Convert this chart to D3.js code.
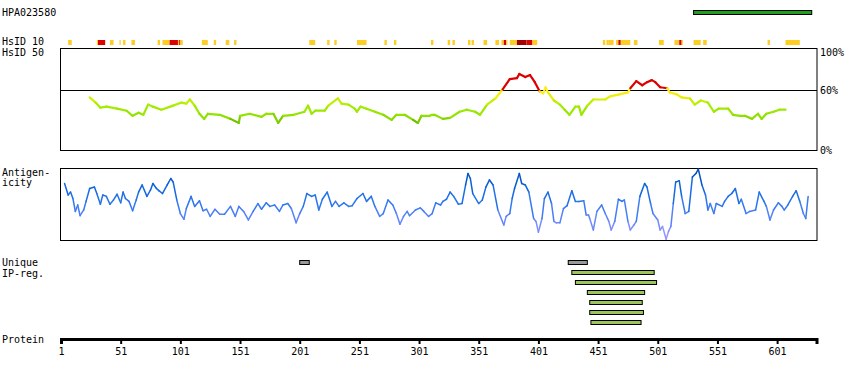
<!DOCTYPE html>
<html><head><meta charset="utf-8">
<script src="https://cdn.jsdelivr.net/npm/d3@7"></script>
<style>
body{margin:0;background:#fff}
svg text{font-family:"DejaVu Sans Mono",monospace;font-size:10px;fill:#000}
</style>
</head><body><svg id="c" width="850" height="380"></svg>
<script>
// ---------------- data ----------------
const proteinLength = 634;
const antigenName = "HPA023580";
const antigenRegion = [531, 630];
// [start, end, level]  level 1 = yellow, 2 = red, 3 = dark red
const hsid10 = [[7,10,1],[31,32,1],[32,38,2],[42,45,1],[50,51,1],[53,55,1],[60,63,1],[82,84,1],[86,92,1],[92,99,2],[99,100,1],[100,101,2],[101,103,1],[119,124,1],[129,131,1],[139,142,1],[146,148,1],[209,214,1],[224,226,1],[230,232,1],[249,257,1],[272,274,1],[280,282,1],[311,313,1],[325,327,1],[329,331,1],[342,344,1],[345,347,1],[355,358,1],[365,368,1],[370,372,1],[372,374,2],[374,375,1],[377,383,1],[383,391,3],[391,396,2],[396,400,1],[455,457,1],[458,460,1],[460,464,1],[466,468,1],[468,470,2],[470,478,1],[481,484,1],[502,506,1],[515,519,1],[519,521,2],[521,522,1],[531,537,1],[539,542,1],[593,595,1],[608,620,1]];
const hsid50Pos = [25,30,34,39,48,56,61,66,70,74,78,85,95,102,106,109,113,117,121,124,134,143,150,151,159,169,173,179,183,187,196,205,208,211,214,222,225,233,236,242,247,249,252,257,264,271,278,282,289,296,300,303,310,312,314,321,327,335,341,348,352,358,365,371,377,383,385,390,394,398,402,405,407,409,414,419,423,427,432,435,437,442,447,457,461,469,476,478,483,488,492,496,499,503,509,511,517,521,528,532,537,543,548,552,560,564,570,574,580,585,588,592,598,603,608];
const hsid50Val = [52,47,42,43,41,39,34,37,35,45,43,40,44,47,46,50,44,36,31,36,35,31,27,34,36,33,36,36,27,34,35,38,44,36,39,39,44,51,46,45,41,38,43,41,38,35,30,35,35,30,27,34,34,35,35,31,32,38,40,38,35,45,51,60,70,71,75,72,74,67,58,56,62,57,49,45,40,35,43,43,35,44,50,50,53,55,57,61,68,64,67,69,67,62,61,57,55,52,51,45,49,47,38,41,41,35,34,34,31,36,31,36,38,40,40];
const antigenPos = [4,7,9,11,13,15,17,20,22,25,29,31,34,36,39,42,45,48,51,53,55,58,61,64,66,69,73,76,78,81,83,86,90,93,95,98,101,104,106,110,113,117,120,123,126,130,134,138,143,147,150,154,158,162,166,169,173,176,180,184,187,191,194,198,201,204,207,211,214,217,220,224,228,231,234,238,242,245,249,254,257,261,264,268,271,275,279,282,285,288,291,293,298,302,305,309,312,315,319,321,324,327,330,334,337,340,342,344,346,351,354,357,360,363,367,372,374,377,379,381,385,387,390,393,397,399,401,404,406,409,412,414,416,419,422,425,429,432,435,439,441,443,444,447,450,454,457,460,462,465,468,471,473,476,478,481,483,486,490,492,495,497,501,503,505,508,510,512,514,516,519,521,524,527,530,533,535,538,541,543,545,548,550,555,557,560,563,566,569,571,575,578,583,586,590,592,595,598,602,605,607,610,614,617,620,623,625,627];
const antigenVal = [79,63,67,58,40,49,34,42,54,72,74,65,50,63,61,50,56,64,52,67,58,54,41,56,67,77,61,70,79,72,69,65,77,86,81,56,37,29,44,61,47,55,41,43,33,43,36,36,47,33,47,40,28,40,51,43,52,47,49,40,49,51,44,24,37,47,65,61,63,42,57,67,47,54,47,52,47,48,58,65,54,61,47,33,37,56,49,37,22,33,40,34,42,45,40,33,37,52,49,54,57,67,61,50,51,77,93,86,65,51,56,74,84,77,42,21,33,37,58,72,93,79,77,67,30,26,11,30,58,67,51,26,24,24,44,48,69,54,54,55,35,35,30,14,40,49,37,26,14,26,57,54,56,26,14,21,26,61,79,74,51,37,28,14,19,1,12,19,51,81,83,61,37,40,88,93,99,77,63,42,51,37,51,47,54,61,65,72,51,57,37,40,42,67,54,47,28,42,52,47,42,49,61,69,54,37,30,61];
const uniqueRegions = [[201,209],[426,442]];
const ipRegions = [[429,498],[432,500],[442,490],[444,488],[444,489],[445,487]];
const tickValues = [1,51,101,151,201,251,301,351,401,451,501,551,601];

// ---------------- drawing ----------------
const svg = d3.select("#c");
const x = d3.scaleLinear().domain([1, proteinLength]).range([61, 816.5]);
const xL = 60.5, xR = 817;

// title + antigen bar
svg.append("text").attr("x", 2).attr("y", 16).text(antigenName);
svg.append("rect")
  .attr("x", x(antigenRegion[0])).attr("y", 10.5)
  .attr("width", x(antigenRegion[1]) - x(antigenRegion[0])).attr("height", 4)
  .attr("fill", "#1f9e1f").attr("stroke", "#000").attr("stroke-width", 1);

// HsID 10 row
svg.append("text").attr("x", 2).attr("y", 45).text("HsID 10");
const lvlColor = {1: "#ffcc22", 2: "#dd0000", 3: "#a00000"};
svg.append("g").selectAll("rect").data(hsid10).join("rect")
  .attr("x", d => x(d[0])).attr("y", 40)
  .attr("width", d => Math.max(1, x(d[1]) - x(d[0]))).attr("height", 5)
  .attr("fill", d => lvlColor[d[2]]);

// HsID 50 panel
svg.append("text").attr("x", 2).attr("y", 56).text("HsID 50");
const yH = d3.scaleLinear().domain([0, 100]).range([150.5, 48.5]);
svg.append("rect").attr("x", xL).attr("y", 48.5).attr("width", xR - xL).attr("height", 102)
  .attr("fill", "none").attr("stroke", "#000").attr("stroke-width", 1);
svg.append("line").attr("x1", xL).attr("x2", xR).attr("y1", 90.5).attr("y2", 90.5)
  .attr("stroke", "#000").attr("stroke-width", 1);
svg.append("text").attr("x", 820).attr("y", 56).text("100%");
svg.append("text").attr("x", 820).attr("y", 94).text("60%");
svg.append("text").attr("x", 820).attr("y", 154).text("0%");
const hCol = d3.scaleLinear().domain([25, 33, 45, 52, 59])
  .range(["#55a000", "#8ee000", "#a8f000", "#e8ee00", "#ffee22"]).clamp(true);
const hColor = v => v >= 60 ? "#dd0000" : hCol(v);
const hPts = hsid50Pos.map((p, i) => [p, hsid50Val[i]]);
svg.append("g").selectAll("line").data(d3.pairs(hPts)).join("line")
  .attr("x1", d => x(d[0][0])).attr("y1", d => yH(d[0][1]))
  .attr("x2", d => x(d[1][0])).attr("y2", d => yH(d[1][1]))
  .attr("stroke", d => hColor((d[0][1] + d[1][1]) / 2))
  .attr("stroke-width", 2.2).attr("stroke-linecap", "round");

// Antigenicity panel
svg.append("text").attr("x", 2).attr("y", 176).text("Antigen-");
svg.append("text").attr("x", 2).attr("y", 186).text("icity");
const yA = d3.scaleLinear().domain([0, 100]).range([240, 168.5]);
svg.append("rect").attr("x", xL).attr("y", 168.5).attr("width", xR - xL).attr("height", 72)
  .attr("fill", "none").attr("stroke", "#000").attr("stroke-width", 1);
const aCol = d3.scaleLinear().domain([0, 25, 50, 75, 100])
  .range(["#a99cff", "#6f88ff", "#2f78ee", "#0a64dc", "#0046a8"]);
const aPts = antigenPos.map((p, i) => [p, antigenVal[i]]);
svg.append("g").selectAll("line").data(d3.pairs(aPts)).join("line")
  .attr("x1", d => x(d[0][0])).attr("y1", d => yA(d[0][1]))
  .attr("x2", d => x(d[1][0])).attr("y2", d => yA(d[1][1]))
  .attr("stroke", d => aCol((d[0][1] + d[1][1]) / 2))
  .attr("stroke-width", 1.5).attr("stroke-linecap", "round");

// Unique / IP regions
svg.append("text").attr("x", 2).attr("y", 266).text("Unique");
svg.append("text").attr("x", 2).attr("y", 277).text("IP-reg.");
svg.append("g").selectAll("rect").data(uniqueRegions).join("rect")
  .attr("x", d => x(d[0])).attr("y", 260.5)
  .attr("width", d => x(d[1]) - x(d[0])).attr("height", 4)
  .attr("fill", "#999999").attr("stroke", "#000").attr("stroke-width", 1);
svg.append("g").selectAll("rect").data(ipRegions).join("rect")
  .attr("x", d => x(d[0])).attr("y", (d, i) => 270.5 + i * 10)
  .attr("width", d => x(d[1]) - x(d[0])).attr("height", 4)
  .attr("fill", "#9cc65c").attr("stroke", "#000").attr("stroke-width", 1);

// Protein axis
svg.append("text").attr("x", 2).attr("y", 343).text("Protein");
const axis = d3.axisBottom(x).tickValues(tickValues).tickSize(5).tickSizeOuter(5).tickFormat(d3.format("d"));
const ag = svg.append("g").attr("transform", "translate(0,339)").call(axis);
ag.attr("font-family", null).attr("font-size", null);
ag.select(".domain").attr("stroke", "#000").attr("stroke-width", 3);
ag.selectAll(".tick line").attr("stroke", "#000").attr("stroke-width", 2);
ag.selectAll(".tick text").attr("fill", "#000").attr("y", 9);
</script>
</body></html>
